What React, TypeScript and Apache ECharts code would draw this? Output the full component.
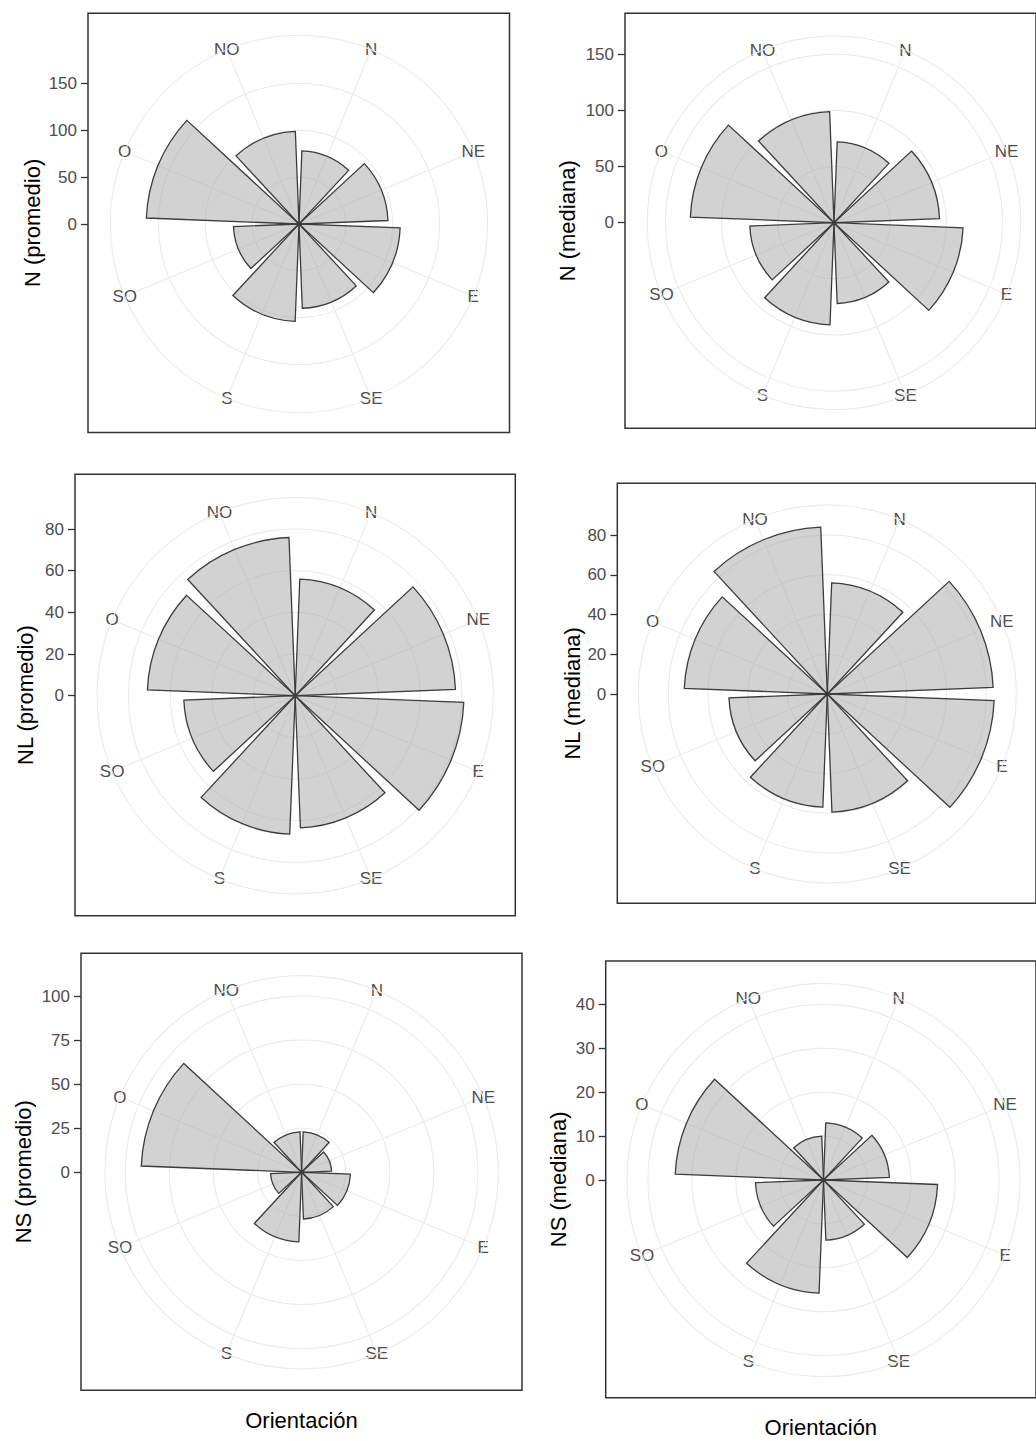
import React, { useEffect, useRef } from 'react';
import * as echarts from 'echarts';

const categories = ['N', 'NE', 'E', 'SE', 'S', 'SO', 'O', 'NO'];

const nPromedio = [78, 95, 108, 90, 104, 70, 163, 99];
const nMediana = [72, 94, 115, 72, 91, 75, 128, 99];
const nlPromedio = [56, 77, 81, 63.5, 66.5, 53.5, 71, 76];
const nlMediana = [56, 83.5, 84, 59.5, 57, 49.5, 72, 84];
const nsPromedio = [23, 17, 27.7, 26.5, 39.5, 17.6, 91, 23];
const nsMediana = [13, 15, 26, 13.7, 25.8, 15.5, 33.8, 10];

const yTitles = ['N (promedio)', 'N (mediana)', 'NL (promedio)', 'NL (mediana)', 'NS (promedio)', 'NS (mediana)'];
const yTickMax = [150, 150, 80, 80, 100, 40];
const yTickStep = [50, 50, 20, 20, 25, 10];
const xTitle = 'Orientación';

const seriesValues = [nPromedio, nMediana, nlPromedio, nlMediana, nsPromedio, nsMediana];

// layout of each panel (pixels)
const panels = [
  { left: 88, top: 13.3, width: 421.5, height: 419.2, cx: 299, cy: 224, k: 0.937, yGap: 45, xTitle: false, xGap: 0 },
  { left: 625, top: 13.3, width: 415, height: 415, cx: 834, cy: 222.7, k: 1.123, yGap: 46.7, xTitle: false, xGap: 0 },
  { left: 75, top: 474.3, width: 440.3, height: 441.4, cx: 295.2, cy: 695.7, k: 2.083, yGap: 38.3, xTitle: false, xGap: 0 },
  { left: 617.3, top: 483.3, width: 420, height: 420, cx: 827.3, cy: 694, k: 1.9875, yGap: 34.3, xTitle: false, xGap: 0 },
  { left: 81, top: 953.3, width: 441, height: 437, cx: 301.6, cy: 1172.3, k: 1.763, yGap: 46.7, xTitle: true, xGap: 19 },
  { left: 605.7, top: 961, width: 437, height: 436.7, cx: 823.5, cy: 1180, k: 4.39, yGap: 36.4, xTitle: true, xGap: 19 },
];

const FONT = '"Liberation Sans", Arial, Helvetica, sans-serif';
const GRID = '#ebebeb';
const LABEL_POLAR_R = 700;

export default function App() {
  const ref = useRef<HTMLDivElement>(null);

  useEffect(() => {
    const chart = echarts.init(ref.current as HTMLDivElement, null, { renderer: 'svg' });
    const grid: any[] = [];
    const xAxis: any[] = [];
    const yAxis: any[] = [];
    const polar: any[] = [];
    const angleAxis: any[] = [];
    const radiusAxis: any[] = [];
    const series: any[] = [];
    const hidden = {
      axisLine: { show: false },
      axisTick: { show: false },
      axisLabel: { show: false },
      splitLine: { show: false },
    };
    const titleStyle = { fontFamily: FONT, fontSize: 22, color: '#000000' };

    panels.forEach((p, i) => {
      const cx = p.cx;
      const cy = p.cy;
      const R = 0.45 * Math.min(p.width, p.height);
      const tMax = yTickMax[i];
      const step = yTickStep[i];

      // panel frame + axis titles
      grid.push({
        left: p.left, top: p.top, width: p.width, height: p.height,
        show: true, borderColor: '#333333', borderWidth: 1.5, backgroundColor: 'transparent',
      });
      xAxis.push({
        gridIndex: 2 * i, type: 'value', min: 0, max: 1, ...hidden,
        name: p.xTitle ? xTitle : '', nameLocation: 'middle', nameGap: p.xGap, nameTextStyle: titleStyle,
      });
      yAxis.push({
        gridIndex: 2 * i, type: 'value', min: 0, max: 1, ...hidden,
        name: yTitles[i], nameLocation: 'middle', nameRotate: 90, nameGap: p.yGap, nameTextStyle: titleStyle,
      });

      // radial tick axis on the left of the frame
      grid.push({ left: p.left, top: cy - tMax * p.k, width: 10, height: tMax * p.k, show: false });
      xAxis.push({ gridIndex: 2 * i + 1, type: 'value', min: 0, max: 1, show: false });
      yAxis.push({
        gridIndex: 2 * i + 1, type: 'value', min: 0, max: tMax, interval: step,
        axisLine: { show: false },
        axisTick: { show: true, length: 7, lineStyle: { color: '#333333', width: 1.3 } },
        axisLabel: { show: true, margin: 11, color: '#4d4d4d', fontSize: 17, fontFamily: FONT, padding: [3, 0, 0, 0] },
        splitLine: { show: false },
      });

      // spokes + outer circle
      polar.push({ center: [cx, cy], radius: R });
      angleAxis.push({
        polarIndex: 3 * i, type: 'value', min: 0, max: 360, interval: 45, startAngle: 67.5, clockwise: true,
        axisLine: { show: true, lineStyle: { color: GRID, width: 1.1 } },
        axisTick: { show: false }, axisLabel: { show: false },
        splitLine: { show: true, lineStyle: { color: GRID, width: 1.1 } },
      });
      radiusAxis.push({ polarIndex: 3 * i, type: 'value', min: 0, max: 1, show: false });

      // concentric circles at the radial breaks
      polar.push({ center: [cx, cy], radius: tMax * p.k });
      angleAxis.push({ polarIndex: 3 * i + 1, type: 'value', min: 0, max: 360, show: false });
      radiusAxis.push({
        polarIndex: 3 * i + 1, type: 'value', min: 0, max: tMax, interval: step,
        axisLine: { show: false }, axisTick: { show: false }, axisLabel: { show: false },
        splitLine: { show: true, lineStyle: { color: GRID, width: 1.1 } },
      });

      // direction labels + bars
      polar.push({ center: [cx, cy], radius: LABEL_POLAR_R });
      angleAxis.push({
        polarIndex: 3 * i + 2, type: 'category', data: categories, startAngle: 90, clockwise: true, boundaryGap: true,
        axisLine: { show: false }, axisTick: { show: false }, splitLine: { show: false },
        axisLabel: {
          show: true, interval: 0, margin: R - LABEL_POLAR_R, color: '#4d4d4d', fontSize: 17, fontFamily: FONT,
          padding: [5, 0, 0, 0],
        },
      });
      radiusAxis.push({ polarIndex: 3 * i + 2, type: 'value', min: 0, max: LABEL_POLAR_R / p.k, show: false });
      series.push({
        type: 'bar', coordinateSystem: 'polar', polarIndex: 3 * i + 2,
        data: seriesValues[i], barCategoryGap: '10%', silent: true,
        itemStyle: { color: 'rgba(166,166,166,0.5)', borderColor: '#3c3c3c', borderWidth: 1.3 },
      });
    });

    chart.setOption({ animation: false, grid, xAxis, yAxis, polar, angleAxis, radiusAxis, series });
    return () => chart.dispose();
  }, []);

  return <div ref={ref} style={{ position: 'absolute', left: 0, top: 0, width: 1036, height: 1441 }} />;
}
